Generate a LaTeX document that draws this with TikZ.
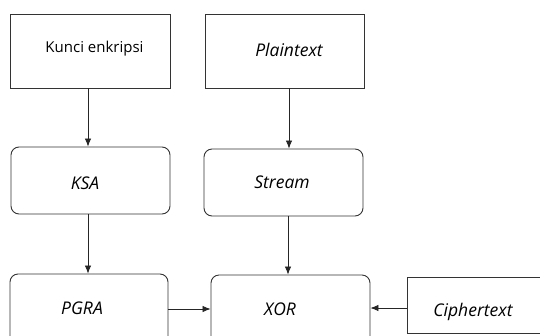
\documentclass[tikz,border=0pt]{standalone}
\usepackage{fontspec}
\setmainfont{Open Sans}
\usetikzlibrary{arrows.meta}
\newcommand\tx[3]{\hspace*{#1}\raisebox{#2}{#3}}
\begin{document}
\begin{tikzpicture}[x=1pt,y=-1pt,
  box/.style={draw=black!80, line width=0.9pt, inner sep=0pt, text height=0pt, text depth=0pt,
    font=\fontsize{17.5}{20}\selectfont\itshape},
  sq/.style={box},
  rnd/.style={box, rounded corners=8pt},
  arr/.style={draw=black!85, line width=0.8pt, -{Latex[length=8pt,width=6.5pt]}}]
\useasboundingbox (0,0) rectangle (540,335);
\clip (0,0) rectangle (540,335);
\node[sq, minimum width=160pt, minimum height=74pt, font=\fontsize{15}{17}\selectfont\upshape] (kunci) at (90,51) {\tx{9pt}{-1.3pt}{Kunci enkripsi}};
\node[sq, minimum width=159pt, minimum height=74pt] (plain) at (284.5,51) {\tx{9pt}{-5.2pt}{Plaintext}};
\node[rnd, minimum width=159pt, minimum height=67pt] (ksa) at (90.5,180.5) {\tx{-11pt}{-8.7pt}{KSA}};
\node[rnd, minimum width=159pt, minimum height=67pt] (stream) at (283.5,182.5) {\tx{-3pt}{-5.7pt}{Stream}};
\node[rnd, minimum width=158pt, minimum height=70pt] (pgra) at (89,309) {\tx{-14pt}{-5.2pt}{PGRA}};
\node[rnd, minimum width=159pt, minimum height=70pt] (xor) at (290.5,310) {\tx{-21pt}{-5.2pt}{XOR}};
\node[sq, minimum width=140pt, minimum height=56pt] (cipher) at (477,305) {\tx{-8pt}{-11.2pt}{Ciphertext}};
\draw[arr] ([xshift=-2pt]kunci.south) -- ([xshift=-2pt]kunci.south |- ksa.north);
\draw[arr] ([xshift=4.5pt]plain.south) -- ([xshift=4.5pt]plain.south |- stream.north);
\draw[arr] ([xshift=-2.5pt]ksa.south) -- ([xshift=-2.5pt]ksa.south |- pgra.north);
\draw[arr] ([xshift=4.5pt]stream.south) -- ([xshift=4.5pt]stream.south |- xor.north);
\draw[arr] (pgra.east) -- (pgra.east -| xor.west);
\draw[arr] ([yshift=-3pt]cipher.west) -- ([yshift=-3pt]cipher.west -| xor.east);
\end{tikzpicture}
\end{document}
